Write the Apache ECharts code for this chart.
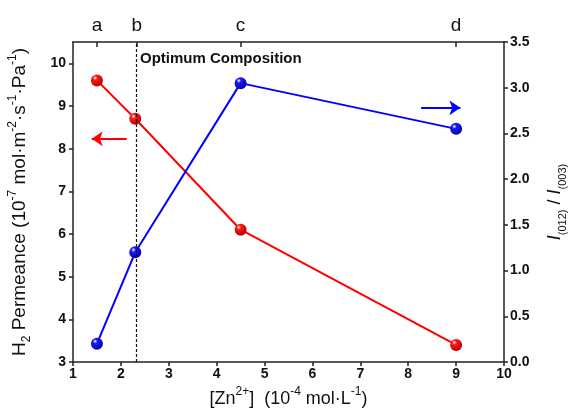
<!DOCTYPE html>
<html>
<head>
<meta charset="utf-8">
<script src="https://cdn.jsdelivr.net/npm/echarts@6/dist/echarts.min.js"></script>
<style>
  html, body { margin: 0; padding: 0; background: #fff; }
  #chart { width: 569px; height: 409px; }
</style>
</head>
<body>
<div id="chart"></div>
<script>
// Zn2+ concentration (10^-4 mol/L)
const concentrations = [1.5, 2.3, 4.5, 9];
// H2 permeance (10^-7 mol m^-2 s^-1 Pa^-1), left axis
const permeance = [9.6, 8.7, 6.1, 3.4];
// I(012)/I(003), right axis
const intensityRatio = [0.2, 1.2, 3.05, 2.55];
// top axis sample marks
const sampleTicks = [1.5, 2.33, 4.5, 9];
const sampleLabels = ["a", "b", "c", "d"];
const leftTicks = [3, 4, 5, 6, 7, 8, 9, 10];
const optimumX = 2.33;

const font = "Liberation Sans, Arial, sans-serif";
const axisColor = "#222";

function sphere(base, dark) {
  return {
    type: "radial", x: 0.35, y: 0.3, r: 0.75,
    colorStops: [
      { offset: 0, color: "#ffffff" },
      { offset: 0.25, color: base },
      { offset: 1, color: dark },
    ],
  };
}

const chart = echarts.init(document.getElementById("chart"));
chart.setOption({
  animation: false,
  grid: { left: 73, right: 65, top: 42, bottom: 47, containLabel: false, outerBoundsMode: "none" },
  textStyle: { fontFamily: font },
  xAxis: [
    {
      type: "value",
      position: "bottom",
      min: 1, max: 10, interval: 1,
      splitLine: { show: false },
      axisLine: { lineStyle: { color: axisColor, width: 1.5 } },
      axisTick: { length: 4, lineStyle: { color: axisColor, width: 1.5 } },
      axisLabel: { color: "#111", fontWeight: "bold", fontSize: 14, margin: 5, fontFamily: font },
      name: "{n|[Zn}{sup|2+}{n|]  (10}{sup|-4}{n| mol·L}{sup|-1}{n|)}",
      nameLocation: "middle",
      nameGap: 24,
      nameTextStyle: {
        rich: {
          n: { fontSize: 18, color: "#111", fontFamily: font, lineHeight: 22, verticalAlign: "bottom" },
          sup: { fontSize: 12, color: "#111", fontFamily: font, lineHeight: 22, verticalAlign: "top" },
        },
      },
    },
    {
      type: "value",
      position: "top",
      min: 1, max: 10,
      splitLine: { show: false },
      axisLine: { lineStyle: { color: axisColor, width: 1.5 } },
      axisTick: {
        inside: true, length: 5, customValues: sampleTicks,
        lineStyle: { color: axisColor, width: 1.5 },
      },
      axisLabel: {
        customValues: sampleTicks,
        color: "#111", fontSize: 19, margin: 7, fontFamily: font,
        formatter: (v) => sampleLabels[sampleTicks.indexOf(v)] || "",
      },
    },
  ],
  yAxis: [
    {
      type: "value",
      position: "left",
      min: 3, max: 10.5,
      splitLine: { show: false },
      axisLine: { show: true, lineStyle: { color: axisColor, width: 1.5 } },
      axisTick: { show: true, length: 4, customValues: leftTicks, lineStyle: { color: axisColor, width: 1.5 } },
      axisLabel: { customValues: leftTicks, color: "#111", fontWeight: "bold", fontSize: 14, margin: 7, fontFamily: font },
      name: "{n|H}{sub|2}{n| Permeance (10}{sup|-7}{n| mol·m}{sup|-2}{n|·s}{sup|-1}{n|·Pa}{sup|-1}{n|)}",
      nameLocation: "middle",
      nameRotate: 90,
      nameGap: 40,
      nameTextStyle: {
        rich: {
          n: { fontSize: 19, color: "#111", fontFamily: font, lineHeight: 26, verticalAlign: "middle" },
          sup: { fontSize: 12, color: "#111", fontFamily: font, lineHeight: 26, verticalAlign: "top" },
          sub: { fontSize: 12, color: "#111", fontFamily: font, lineHeight: 26, verticalAlign: "bottom" },
        },
      },
    },
    {
      type: "value",
      position: "right",
      min: 0, max: 3.5, interval: 0.5,
      splitLine: { show: false },
      axisLine: { show: true, lineStyle: { color: axisColor, width: 1.5 } },
      axisTick: { show: true, length: 4, lineStyle: { color: axisColor, width: 1.5 } },
      axisLabel: {
        color: "#111", fontWeight: "bold", fontSize: 14, margin: 6, fontFamily: font,
        formatter: (v) => v.toFixed(1),
      },
      name: "{i|I}{sub|(012)}{n| / }{i|I}{sub|(003)}",
      nameLocation: "middle",
      nameRotate: 90,
      nameGap: 38,
      nameTextStyle: {
        rich: {
          n: { fontSize: 18, color: "#111", fontFamily: font, lineHeight: 26, verticalAlign: "middle" },
          i: { fontSize: 18, color: "#111", fontFamily: font, fontStyle: "italic", lineHeight: 26, verticalAlign: "middle" },
          sub: { fontSize: 11, color: "#111", fontFamily: font, lineHeight: 26, verticalAlign: "bottom" },
        },
      },
    },
  ],
  graphic: [
    {
      type: "text",
      left: 140,
      top: 51,
      style: { text: "Optimum Composition", font: "bold 15px " + font, fill: "#111" },
    },
  ],
  series: [
    {
      name: "permeance",
      type: "line",
      xAxisIndex: 0,
      yAxisIndex: 0,
      data: concentrations.map((x, i) => [x, permeance[i]]),
      symbol: "circle",
      symbolSize: 12,
      lineStyle: { color: "#ff0000", width: 2 },
      itemStyle: { color: sphere("#ff1a1a", "#b00000"), borderWidth: 0 },
      z: 3,
      markLine: {
        silent: true,
        symbol: "none",
        lineStyle: { color: "#111", type: [3, 2], width: 1.2 },
        label: { show: false },
        data: [{ xAxis: optimumX }],
      },
    },
    {
      name: "ratio",
      type: "line",
      xAxisIndex: 0,
      yAxisIndex: 1,
      data: concentrations.map((x, i) => [x, intensityRatio[i]]),
      symbol: "circle",
      symbolSize: 12,
      lineStyle: { color: "#0000ff", width: 2 },
      itemStyle: { color: sphere("#1a1aff", "#0000a0"), borderWidth: 0 },
      z: 3,
    },
    {
      // left-pointing arrow marking the permeance axis
      type: "line",
      xAxisIndex: 0,
      yAxisIndex: 0,
      data: [],
      markLine: {
        silent: true,
        symbol: ["none", "arrow"],
        symbolSize: 11,
        lineStyle: { color: "#ff0000", type: "solid", width: 2 },
        itemStyle: { color: "#ff0000" },
        label: { show: false },
        data: [[{ coord: [2.12, 8.23] }, { coord: [1.39, 8.23] }]],
      },
    },
    {
      // right-pointing arrow marking the ratio axis
      type: "line",
      xAxisIndex: 0,
      yAxisIndex: 1,
      data: [],
      markLine: {
        silent: true,
        symbol: ["none", "arrow"],
        symbolSize: 11,
        lineStyle: { color: "#0000ff", type: "solid", width: 2 },
        itemStyle: { color: "#0000ff" },
        label: { show: false },
        data: [[{ coord: [8.27, 2.78] }, { coord: [9.09, 2.78] }]],
      },
    },
  ],
});
</script>
</body>
</html>
